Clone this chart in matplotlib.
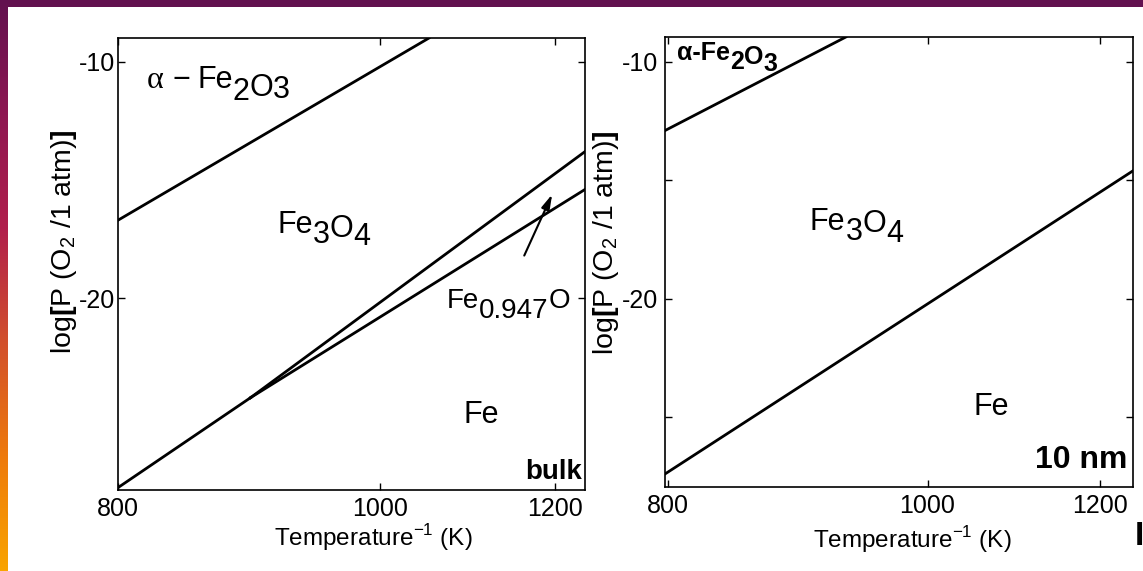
import matplotlib
matplotlib.use("Agg")
import matplotlib.pyplot as plt
import numpy as np
from matplotlib.colors import LinearSegmentedColormap

plt.rcParams['font.family'] = ['Liberation Sans', 'DejaVu Sans']
plt.rcParams['mathtext.fontset'] = 'custom'
plt.rcParams['mathtext.rm'] = 'Liberation Sans'
plt.rcParams['mathtext.bf'] = 'Liberation Sans:bold'
plt.rcParams['axes.unicode_minus'] = False

# phase boundaries: temperature (K) and log P(O2) at the ends of each line
bulk_hem_T = [800, 1049]
bulk_hem_logp = [-16.7, -9.0]
bulk_mag_fe_T = [800, 890]
bulk_mag_fe_logp = [-28.0, -24.2]
bulk_mag_wus_T = [890, 1243]
bulk_mag_wus_logp = [-24.2, -13.8]
bulk_wus_fe_T = [890, 1243]
bulk_wus_fe_logp = [-24.2, -15.4]

nano_hem_T = [798, 927]
nano_hem_logp = [-12.9, -8.95]
nano_mag_fe_T = [798, 1247]
nano_mag_fe_logp = [-27.4, -14.6]

x_ticks = [800, 1000, 1200]
x_ticklabels = ['800', '1000', '1200']

W, H = 1143, 571


def fwd(t):
    return -1.0 / np.asarray(t, dtype=float)


def inv(u):
    return -1.0 / np.asarray(u, dtype=float)


def chem(ax, x, y, parts, size, weight='normal'):
    # pieces of a formula, subscripts full size but dropped (px)
    prev = None
    prev_drop = 0
    for s, drop in parts:
        if prev is None:
            prev = ax.annotate(s, xy=(x / W, 1 - (y + drop) / H), xycoords='figure fraction',
                               ha='left', va='baseline', fontsize=size, fontweight=weight)
        else:
            prev = ax.annotate(s, xy=(1, 0), xycoords=prev,
                               xytext=(0, -(drop - prev_drop) * 0.72), textcoords='offset points',
                               ha='left', va='bottom', fontsize=size, fontweight=weight)
        prev_drop = drop


fig = plt.figure(figsize=(W / 100, H / 100), dpi=100, facecolor='white')

# slide decoration: top band and left gradient strip
band = fig.add_axes([0, 1 - 7 / H, 1, 7 / H])
band.set_facecolor('#62114f')
band.set_xticks([]); band.set_yticks([])
for s in band.spines.values():
    s.set_visible(False)
strip = fig.add_axes([0, 0, 8 / W, 1])
cmap = LinearSegmentedColormap.from_list('slide', ['#62114f', '#8e1752', '#b11f4c', '#d2502c', '#ee7a0c', '#f9a400'])
strip.imshow(np.linspace(0, 1, 256).reshape(-1, 1), aspect='auto', cmap=cmap)
strip.axis('off')

ax1 = fig.add_axes([118 / W, 1 - 490 / H, 467 / W, 452 / H])
ax2 = fig.add_axes([665 / W, 1 - 487 / H, 468 / W, 450 / H])

for ax in (ax1, ax2):
    ax.set_xscale('function', functions=(fwd, inv))

ax1.plot(bulk_hem_T, bulk_hem_logp, color='black', lw=2)
ax1.plot(bulk_mag_fe_T, bulk_mag_fe_logp, color='black', lw=2)
ax1.plot(bulk_mag_wus_T, bulk_mag_wus_logp, color='black', lw=2)
ax1.plot(bulk_wus_fe_T, bulk_wus_fe_logp, color='black', lw=2)
ax1.set_xlim(800, 1243)
ax1.set_ylim(-28.1, -9.0)
ax1.set_yticks([-20, -10])
ax1.set_yticklabels(['-20', '-10'])

ax2.plot(nano_hem_T, nano_hem_logp, color='black', lw=2)
ax2.plot(nano_mag_fe_T, nano_mag_fe_logp, color='black', lw=2)
ax2.set_xlim(798, 1247)
ax2.set_ylim(-27.95, -8.95)
ax2.set_yticks([-25, -20, -15, -10])
ax2.set_yticklabels(['', '-20', '', '-10'])

for ax, ypad in ((ax1, 2), (ax2, 5)):
    ax.set_xticks(x_ticks)
    ax.set_xticklabels(x_ticklabels)
    ax.minorticks_off()
    ax.tick_params(direction='in', length=5, width=1, top=True, right=True, labelsize=18)
    ax.tick_params(axis='x', pad=5)
    ax.tick_params(axis='y', pad=ypad)
    for s in ax.spines.values():
        s.set_linewidth(1.2)
    ax.set_xlabel('Temperature$^{\\mathregular{-1}}$ (K)', fontsize=17.5)
    ax.set_ylabel('log$\\mathbf{[}$P (O$_2$ /1 atm)$\\mathbf{]}$', fontsize=20.5)

ax1.xaxis.set_label_coords(0.547, -0.072)
ax2.xaxis.set_label_coords(0.528, -0.082)
ax1.yaxis.set_label_coords(-0.083, 0.549)
ax2.yaxis.set_label_coords(-0.094, 0.544)

# arrow pointing to the thin wustite field
ax1.annotate('', xy=(1198, -15.5), xytext=(1158, -18.3),
             arrowprops=dict(arrowstyle='-|>,head_length=0.9,head_width=0.25', color='black', lw=1.5))

# phase labels, bulk
fig.text(147 / W, 1 - 88 / H, 'α', family=['Liberation Serif', 'DejaVu Serif'], fontsize=23)
fig.text(172 / W, 1 - 88 / H, '−', fontsize=22)
chem(ax1, 197, 88, [('Fe', 0), ('2', 12), ('O', 8), ('3', 10)], 22)
chem(ax1, 277, 233, [('Fe', 0), ('3', 10), ('O', 4), ('4', 12)], 22)
chem(ax1, 447, 308, [('Fe', 0), ('0.947', 10), ('O', 0)], 20)
fig.text(463 / W, 1 - 423 / H, 'Fe', fontsize=22)
fig.text(582 / W, 1 - 479 / H, 'bulk', fontsize=20, fontweight='bold', ha='right')

# phase labels, 10 nm
chem(ax2, 677, 60, [('α-Fe', 0), ('2', 9), ('O', 4), ('3', 11)], 18, 'bold')
chem(ax2, 810, 230, [('Fe', 0), ('3', 10), ('O', 2), ('4', 12)], 22)
fig.text(974 / W, 1 - 415 / H, 'Fe', fontsize=22)
fig.text(1127 / W, 1 - 468 / H, '10 nm', fontsize=23, fontweight='bold', ha='right')
fig.text(1139 / W, 1 - 545 / H, 'I', fontsize=24, fontweight='bold', ha='center')

plt.savefig('out.png', dpi=100, facecolor='white')
